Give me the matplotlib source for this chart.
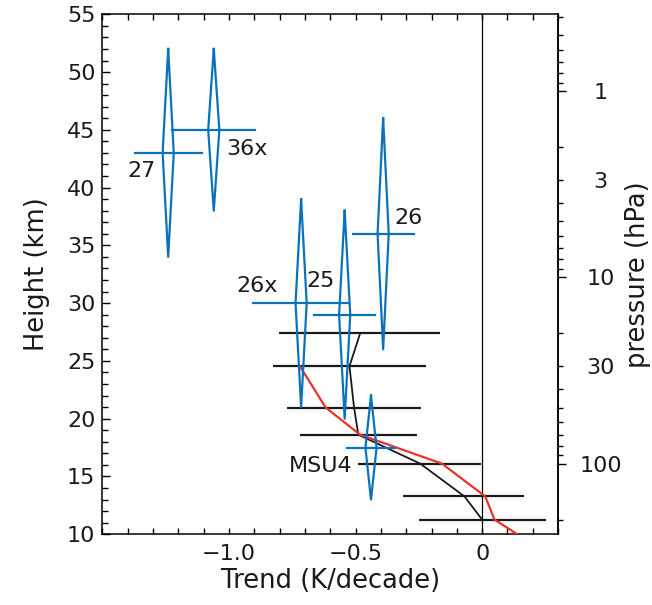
import numpy as np
import matplotlib
matplotlib.use("Agg")
import matplotlib.pyplot as plt
from matplotlib.ticker import FixedLocator, MultipleLocator, FuncFormatter

# satellite channels: trend, 2-sigma half width, peak / top / bottom of weighting (km)
chan_names = ["27", "36x", "26x", "25", "26", "MSU4"]
chan_trend = [-1.24, -1.06, -0.715, -0.543, -0.391, -0.439]
chan_err = [0.133, 0.163, 0.19, 0.12, 0.12, 0.095]
chan_peak = [43.0, 45.0, 30.0, 29.0, 36.0, 17.5]
chan_top = [52.0, 52.0, 39.0, 38.0, 46.0, 22.0]
chan_bot = [34.0, 38.0, 21.0, 20.0, 26.0, 13.0]
# where each channel name goes (trend, km)
label_x = [-1.345, -0.93, -0.89, -0.638, -0.289, -0.638]
label_z = [41.4, 43.3, 31.45, 31.9, 37.35, 15.9]

# radiosonde trends at standard levels
sonde_p = [20, 30, 50, 70, 100, 150, 200]
sonde_mean = [-0.482, -0.524, -0.506, -0.489, -0.245, -0.07, 0.0]
sonde_lo = [-0.801, -0.827, -0.772, -0.719, -0.491, -0.312, -0.249]
sonde_hi = [-0.166, -0.221, -0.241, -0.258, -0.005, 0.166, 0.252]

# model trend profile
model_p = [30, 50, 70, 100, 150, 200, 250]
model_trend = [-0.72, -0.618, -0.482, -0.159, 0.012, 0.049, 0.16]

H = 7.0   # scale height, km
P0 = 1000.0


def z_to_p(z):
    return P0 * np.exp(-np.asarray(z, dtype=float) / H)


def p_to_z(p):
    p = np.clip(np.asarray(p, dtype=float), 1e-6, None)
    return H * np.log(P0 / p)


BLUE = "#0a72bb"
RED = "#e8322a"
INK = "#1a1a1a"

plt.rcParams["font.family"] = "DejaVu Sans"

fig = plt.figure(figsize=(6.52, 6.05), dpi=100)
ax = fig.add_axes([0.157, 0.1169, 0.699, 0.8595])

ax.axvline(0, color="black", lw=0.9, zorder=1)

# radiosonde error bars and mean profile
sonde_z = p_to_z(sonde_p)
ax.hlines(sonde_z, sonde_lo, sonde_hi, color=INK, lw=1.6, zorder=2)
ax.plot(sonde_mean, sonde_z, color=INK, lw=1.3, zorder=3)

# model profile
ax.plot(model_trend, p_to_z(model_p), color=RED, lw=1.6, zorder=3)

# channels: thin diamond for the vertical extent, bar for the trend range
w = 0.022
for i in range(len(chan_names)):
    x = chan_trend[i]
    zc = chan_peak[i]
    ax.plot([x, x + w, x, x - w, x],
            [chan_top[i], zc, chan_bot[i], zc, chan_top[i]],
            color=BLUE, lw=1.6, zorder=4)
    ax.plot([x - chan_err[i], x + chan_err[i]], [zc, zc],
            color=BLUE, lw=1.6, zorder=4)
    ax.text(label_x[i], label_z[i], chan_names[i], fontsize=16,
            ha="center", va="center", color=INK, zorder=5)

ax.set_xlim(-1.5, 0.3)
ax.set_ylim(10, 55)

ax.set_xticks([-1.0, -0.5, 0.0])
ax.set_xticklabels(["\u22121.0", "\u22120.5", "0"])
ax.xaxis.set_minor_locator(MultipleLocator(0.1))
ax.yaxis.set_major_locator(MultipleLocator(5))
ax.yaxis.set_minor_locator(MultipleLocator(1))

ax.tick_params(axis="x", which="both", direction="in", top=True, bottom=True,
               length=4.3, width=1.0, labelsize=16, pad=7, labelcolor=INK)
ax.tick_params(axis="y", which="major", direction="in", left=True, right=False,
               length=5.5, width=1.0, labelsize=16, pad=5, labelcolor=INK)
ax.tick_params(axis="y", which="minor", direction="in", left=True, right=False,
               length=4.3, width=1.0)
for s in ax.spines.values():
    s.set_linewidth(1.1)

ax.set_xlabel("Trend (K/decade)", fontsize=18.5, labelpad=3, color=INK)
ax.set_ylabel("Height (km)", fontsize=18.5, labelpad=12, color=INK)

# pressure axis on the right
secax = ax.secondary_yaxis("right", functions=(z_to_p, p_to_z))
secax.spines["right"].set_linewidth(1.1)
major_p = [1, 10, 100]
minor_p = [0.4, 0.5, 0.6, 0.7, 0.8, 0.9,
           2, 3, 4, 5, 6, 7, 8, 9,
           20, 30, 40, 50, 60, 70, 80, 90, 200]
secax.yaxis.set_major_locator(FixedLocator(major_p))
secax.yaxis.set_minor_locator(FixedLocator(minor_p))
secax.yaxis.set_major_formatter(FuncFormatter(lambda v, pos: "%g" % v))
secax.yaxis.set_minor_formatter(
    FuncFormatter(lambda v, pos: "%g" % v if v in (3, 30) else ""))
secax.tick_params(which="major", direction="out", length=5.5, width=1.0,
                  labelsize=16, pad=25, labelcolor=INK)
secax.tick_params(which="minor", direction="out", length=3.4, width=1.0,
                  labelsize=16, pad=27, labelcolor=INK)
for lbl in secax.yaxis.get_ticklabels(which="both"):
    lbl.set_horizontalalignment("center")
secax.set_ylabel("pressure (hPa)", fontsize=18.5, labelpad=2, color=INK)

fig.savefig("out.png", dpi=100)
